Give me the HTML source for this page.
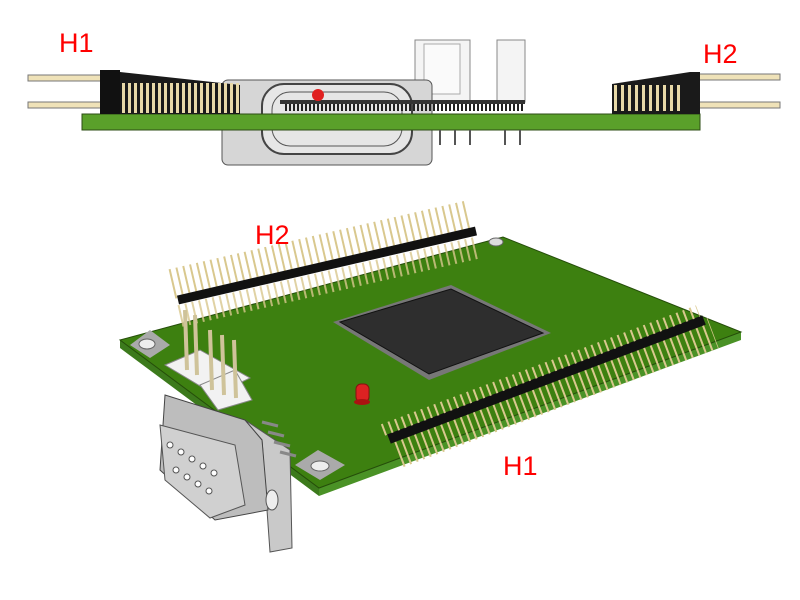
<!DOCTYPE html>
<html><head><style>
html,body{margin:0;padding:0;background:#fff;width:800px;height:600px;overflow:hidden}
svg{display:block}
text{font-family:"Liberation Sans",sans-serif;fill:#f00}
</style></head><body>
<svg width="800" height="600" viewBox="0 0 800 600">
<!-- TOP VIEW -->
<rect x="415" y="40" width="55" height="62" fill="#f4f4f4" stroke="#888"/>
<rect x="424" y="44" width="36" height="50" fill="#fafafa" stroke="#aaa"/>
<rect x="497" y="40" width="28" height="62" fill="#f4f4f4" stroke="#888"/>
<rect x="222" y="80" width="210" height="85" rx="6" fill="#d6d6d6" stroke="#555"/>
<rect x="262" y="84" width="150" height="70" rx="22" fill="#e6e6e6" stroke="#444" stroke-width="2"/>
<rect x="272" y="92" width="130" height="54" rx="18" fill="none" stroke="#555"/>
<line x1="285" y1="106" x2="525" y2="106" stroke="#222" stroke-width="10" stroke-dasharray="2 2"/>
<rect x="280" y="100" width="245" height="4" fill="#333"/>
<circle cx="318" cy="95" r="6" fill="#e02020"/>
<rect x="82" y="114" width="618" height="16" fill="#5aa02a" stroke="#2d4d15"/>
<g stroke="#555" stroke-width="2">
<line x1="440" y1="130" x2="440" y2="145"/><line x1="455" y1="130" x2="455" y2="145"/><line x1="470" y1="130" x2="470" y2="145"/>
<line x1="505" y1="130" x2="505" y2="145"/><line x1="520" y1="130" x2="520" y2="145"/>
</g>
<g stroke="#777" stroke-width="1">
<rect x="28" y="75" width="74" height="6" fill="#efe2b8"/>
<rect x="28" y="102" width="74" height="6" fill="#efe2b8"/>
<rect x="690" y="74" width="90" height="6" fill="#efe2b8"/>
<rect x="690" y="102" width="90" height="6" fill="#efe2b8"/>
</g>
<polygon points="100,70 120,72 240,85 240,114 100,114" fill="#1a1a1a"/>
<line x1="122" y1="98" x2="240" y2="98" stroke="#e8d9a8" stroke-width="30" stroke-dasharray="3 3"/>
<rect x="100" y="70" width="20" height="44" fill="#111"/>
<polygon points="612,84 690,72 700,72 700,114 612,114" fill="#1a1a1a"/>
<line x1="614" y1="98" x2="680" y2="98" stroke="#e8d9a8" stroke-width="26" stroke-dasharray="3 4"/>
<text x="59" y="52" font-size="27">H1</text>
<text x="703" y="63" font-size="27">H2</text>

<!-- ISO VIEW -->
<polygon points="120,340 319,488 319,496 120,348" fill="#3c7a1c"/>
<polygon points="319,488 741,332 741,340 319,496" fill="#4a9226"/>
<polygon points="120,340 503,237 741,332 319,488" fill="#3d8010" stroke="#254d0a"/>
<polygon points="130,345 150,330 170,345 150,358" fill="#aaa"/>
<ellipse cx="147" cy="344" rx="8" ry="5" fill="#eee" stroke="#666"/>
<polygon points="295,465 318,450 345,465 320,480" fill="#aaa"/>
<ellipse cx="320" cy="466" rx="9" ry="5" fill="#eee" stroke="#666"/>
<ellipse cx="496" cy="242" rx="7" ry="4" fill="#ddd" stroke="#666"/>
<polygon points="333,322 451,285 551,333 429,380" fill="#777"/>
<polygon points="340,322 451,289 543,333 429,374" fill="#2e2e2e" stroke="#111"/>
<!-- H2 header -->
<line x1="172" y1="284" x2="470" y2="215" stroke="#d9c88e" stroke-width="30" stroke-dasharray="2 5"/>
<line x1="178" y1="300" x2="476" y2="231" stroke="#111" stroke-width="9"/>
<line x1="180" y1="316" x2="476" y2="248" stroke="#d9c88e" stroke-width="22" stroke-dasharray="2 5" opacity="0.8"/>
<polygon points="165,365 200,350 250,378 215,395" fill="#f2f2f2" stroke="#888"/>
<polygon points="200,385 235,370 252,400 218,410" fill="#f2f2f2" stroke="#888"/>
<g stroke="#cfc39a" stroke-width="4">
<line x1="185" y1="310" x2="187" y2="370"/><line x1="195" y1="315" x2="197" y2="375"/>
<line x1="210" y1="330" x2="212" y2="390"/><line x1="222" y1="335" x2="224" y2="395"/><line x1="234" y1="340" x2="236" y2="398"/>
</g>
<rect x="356" y="384" width="13" height="18" rx="5" fill="#d22" stroke="#811"/>
<ellipse cx="362" cy="402" rx="8" ry="3" fill="#a11"/>
<!-- H1 header -->
<line x1="398" y1="452" x2="713" y2="333" stroke="#d9c88e" stroke-width="32" stroke-dasharray="2 5"/>
<line x1="389" y1="439" x2="704" y2="320" stroke="#111" stroke-width="10"/>
<line x1="383" y1="430" x2="698" y2="311" stroke="#d9c88e" stroke-width="12" stroke-dasharray="2 5"/>
<!-- DB9 -->
<polygon points="245,420 290,450 292,548 270,552 262,440" fill="#c9c9c9" stroke="#555"/>
<polygon points="165,395 245,420 262,440 268,510 215,520 160,470" fill="#bdbdbd" stroke="#444"/>
<polygon points="160,425 235,445 245,505 210,518 165,480" fill="#d0d0d0" stroke="#555"/>
<g fill="#fff" stroke="#555">
<circle cx="170" cy="445" r="3"/><circle cx="181" cy="452" r="3"/><circle cx="192" cy="459" r="3"/><circle cx="203" cy="466" r="3"/><circle cx="214" cy="473" r="3"/>
<circle cx="176" cy="470" r="3"/><circle cx="187" cy="477" r="3"/><circle cx="198" cy="484" r="3"/><circle cx="209" cy="491" r="3"/>
</g>
<ellipse cx="272" cy="500" rx="6" ry="10" fill="#eee" stroke="#555"/>
<g stroke="#888" stroke-width="3">
<line x1="262" y1="422" x2="278" y2="426"/><line x1="268" y1="432" x2="284" y2="436"/><line x1="274" y1="442" x2="290" y2="446"/><line x1="280" y1="452" x2="296" y2="456"/>
</g>
<text x="255" y="244" font-size="27">H2</text>
<text x="503" y="475" font-size="27">H1</text>
</svg>
</body></html>
